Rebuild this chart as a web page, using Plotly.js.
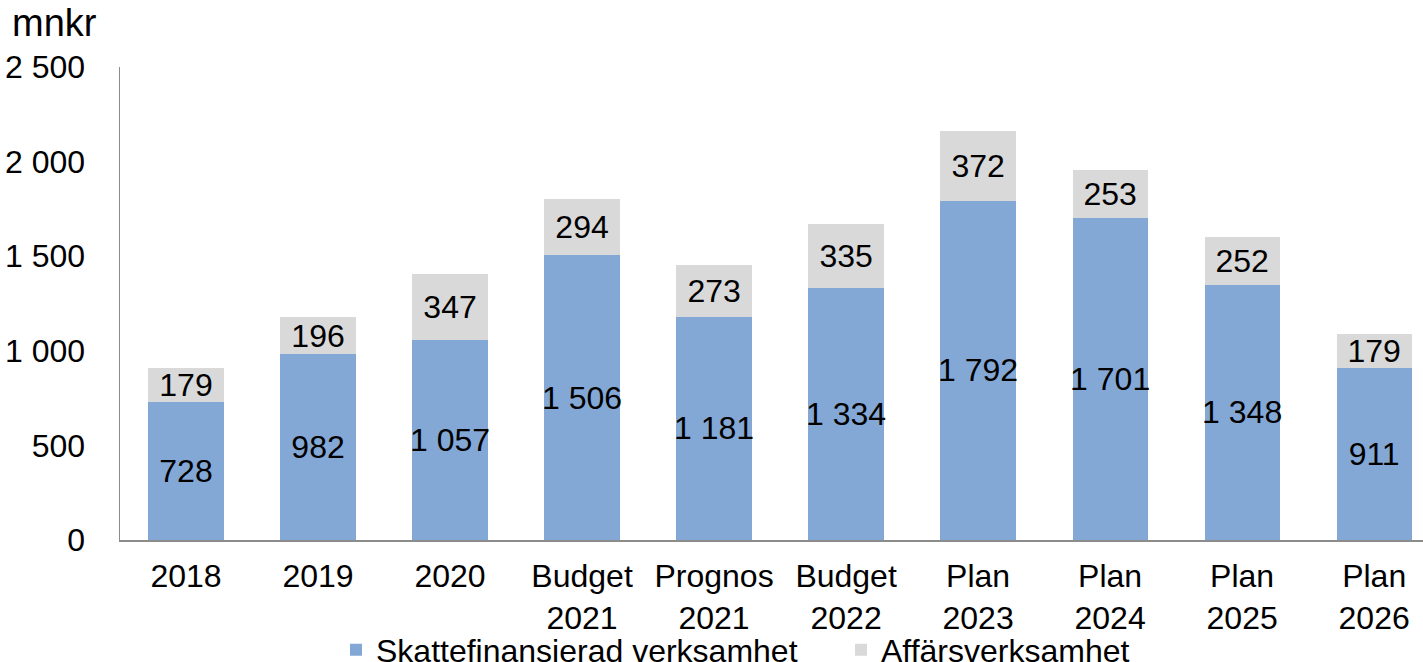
<!DOCTYPE html>
<html><head><meta charset="utf-8">
<script src="https://cdn.plot.ly/plotly-3.0.1.min.js"></script>
<style>html,body{margin:0;padding:0;background:#fff}#chart{width:1423px;height:662px}</style>
</head><body><div id="chart"></div>
<script>
const categories = ["2018","2019","2020","Budget<br>2021","Prognos<br>2021","Budget<br>2022","Plan<br>2023","Plan<br>2024","Plan<br>2025","Plan<br>2026"];
const skattefinansierad = [728, 982, 1057, 1506, 1181, 1334, 1792, 1701, 1348, 911];
const affarsverksamhet = [179, 196, 347, 294, 273, 335, 372, 253, 252, 179];
const yTicks = [0, 500, 1000, 1500, 2000, 2500];

const FONT = '"Liberation Sans", Arial, sans-serif';
const FS = 32;
const common = {
  type: 'bar', x: categories, textposition: 'inside', insidetextanchor: 'middle',
  textangle: 0, constraintext: 'none', texttemplate: '%{y:,}',
  textfont: {family: FONT, size: FS, color: '#000'}, hoverinfo: 'skip'
};
const data = [
  Object.assign({}, common, {name: 'Skattefinansierad verksamhet', y: skattefinansierad, marker: {color: '#84A8D6'}}),
  Object.assign({}, common, {name: 'Affärsverksamhet', y: affarsverksamhet, marker: {color: '#D9D9D9'}})
];
const layout = {
  width: 1423, height: 662, barmode: 'stack', bargap: 0.43,
  separators: ', ',
  margin: {l: 120, r: 0, t: 67, b: 122, pad: 0},
  paper_bgcolor: '#fff', plot_bgcolor: '#fff',
  font: {family: FONT, size: FS, color: '#000'},
  xaxis: {range: [-0.5, 9.37], showline: true, linecolor: '#8c8c8c', linewidth: 1.5, automargin: false,
          ticks: '', showgrid: false, zeroline: false, tickfont: {size: FS}, ticklabelstandoff: 7, fixedrange: true},
  yaxis: {range: [0, 2500], tickvals: yTicks, tickformat: ',', showline: true, linecolor: '#8c8c8c', linewidth: 1.5, automargin: false,
          ticks: '', showgrid: false, zeroline: false, tickfont: {size: FS}, ticklabelstandoff: 27, fixedrange: true},
  legend: {orientation: 'h', xref: 'container', yref: 'container', x: 336 / 1423, xanchor: 'left', y: 1 - 650 / 662, yanchor: 'middle',
           font: {size: FS}, traceorder: 'normal', entrywidth: 460, bgcolor: 'rgba(0,0,0,0)'},
  annotations: [{text: 'mnkr', xref: 'paper', yref: 'paper', x: (10 - 120) / 1303, y: 1 + (67 - 23) / 473,
                 xanchor: 'left', yanchor: 'middle', showarrow: false, font: {size: 38}}],
  showlegend: true
};
Plotly.newPlot('chart', data, layout, {displayModeBar: false, staticPlot: true});
</script></body></html>
